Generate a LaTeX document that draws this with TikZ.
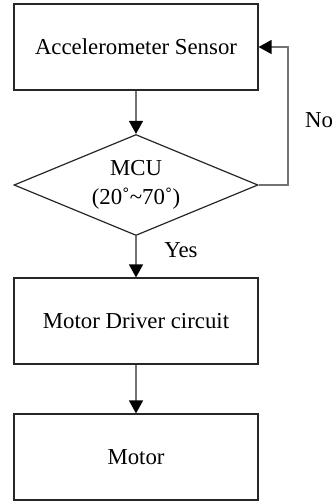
\documentclass[tikz,border=0pt]{standalone}
\usepackage{fontspec}
\setmainfont{Liberation Serif}
\usetikzlibrary{shapes.geometric,arrows.meta}
\tikzset{
  block/.style={draw=black!85,line width=0.6pt,minimum width=122pt,minimum height=43pt,inner sep=0pt,font=\fontsize{11.4}{12}\selectfont},
  decide/.style={draw=black!85,line width=0.6pt,diamond,aspect=2.42,minimum width=122pt,minimum height=50.5pt,inner sep=0pt,align=center,font=\fontsize{11.4}{14.5}\selectfont},
  flow/.style={draw=black!55,line width=0.7pt,-{Triangle[width=7pt,length=6.5pt,black]}},
  lbl/.style={font=\fontsize{11.4}{12}\selectfont}
}
\begin{document}
\begin{tikzpicture}[x=0.5pt,y=-0.5pt]
	\useasboundingbox (0,0) rectangle (336,502);
	\node[block] (sensor) at (136, 47) {Accelerometer Sensor};
	\node[decide] (mcu) at (136, 185) {MCU\\(20˚\textasciitilde70˚)};
	\node[block] (driver) at (136, 321) {Motor Driver circuit};
	\node[block] (motor) at (136, 457) {Motor};
	\coordinate (turn) at (288, 185);
	\node[lbl] (no) at (319, 120) {No};
	\node[lbl] (yes) at (181, 250) {Yes};
	\draw[flow] (sensor) -- (mcu);
	\draw[flow] (mcu) -- (driver);
	\draw[flow] (driver) -- (motor);
	\draw[flow] (mcu.east) -- (turn) |- (sensor.east);
\end{tikzpicture}
\end{document}
